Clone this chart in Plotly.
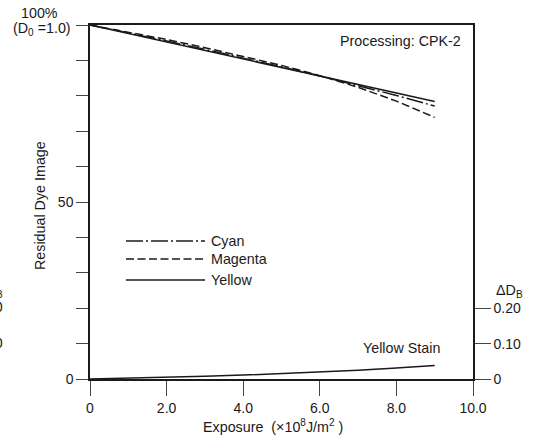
import plotly.graph_objects as go

# ---- data ----
exposure = [0, 1, 2, 3, 4, 5, 6, 7, 8, 9]
cyan = [100, 97.8, 95.5, 93.1, 90.7, 88.2, 85.6, 82.9, 80.1, 77.1]
magenta = [100, 98.0, 95.9, 93.6, 91.2, 88.6, 85.7, 82.4, 78.5, 73.9]
yellow = [100, 97.6, 95.2, 92.8, 90.4, 88.0, 85.6, 83.1, 80.7, 78.4]
yellow_stain = [0, 0.002, 0.005, 0.008, 0.011, 0.015, 0.020, 0.025, 0.031, 0.038]

x_ticks = [0, 2, 4, 6, 8, 10]
x_ticktext = ["0", "2.0", "4.0", "6.0", "8.0", "10.0"]
y_ticks = [0, 10, 20, 30, 40, 50, 60, 70, 80, 90, 100]
y_ticktext = ["0", "", "", "", "", "50", "", "", "", "", ""]
y2_ticks = [0, 0.1, 0.2]
y2_ticktext = ["0", "0.10", "0.20"]

FONT = "Liberation Sans, Arial, Helvetica, sans-serif"
INK = "#1a1a1a"
FS = 14.3
TFS = 14

fig = go.Figure()
fig.add_trace(go.Scatter(x=exposure, y=cyan, mode="lines", name="Cyan",
                         line=dict(color=INK, width=1.5, dash="17px,3px,2px,3px")))
fig.add_trace(go.Scatter(x=exposure, y=magenta, mode="lines", name="Magenta",
                         line=dict(color=INK, width=1.5, dash="8px,3.5px")))
fig.add_trace(go.Scatter(x=exposure, y=yellow, mode="lines", name="Yellow",
                         line=dict(color=INK, width=1.5)))
fig.add_trace(go.Scatter(x=exposure, y=yellow_stain, mode="lines", name="Yellow Stain",
                         yaxis="y2", line=dict(color=INK, width=1.5)))

legend_items = [("Cyan", "17px,3px,2px,3px", 241), ("Magenta", "8px,3.5px", 259), ("Yellow", "solid", 280)]
def px_x(p):
    return (p - 90) / 383.0
def px_y(p):
    return (379 - p) / 354.0

shapes = []
annotations = []
for name, dash, py in legend_items:
    shapes.append(dict(type="line", xref="paper", yref="paper",
                       x0=px_x(126), x1=px_x(205), y0=px_y(py), y1=px_y(py),
                       line=dict(color=INK, width=1.5, dash=dash)))
    annotations.append(dict(xref="paper", yref="paper", x=px_x(209), y=px_y(py),
                            xanchor="left", yanchor="middle", showarrow=False,
                            text=name, font=dict(size=FS, color=INK, family=FONT)))

def ann(x, y, text, xanchor="center", **kw):
    d = dict(xref="paper", yref="paper", x=px_x(x), y=px_y(y), xanchor=xanchor, yanchor="middle",
             showarrow=False, text=text, font=dict(size=FS, color=INK, family=FONT))
    d.update(kw)
    return d

NB = "\u00a0"
annotations += [
    ann(463, 41, "Processing: CPK-2", xanchor="right"),
    ann(442, 348, "Yellow Stain", xanchor="right"),
    ann(40, 13, "100%"),
    ann(42, 29, "(D<sub>0</sub> =1.0)"),
    ann(494, 291, "ΔD<sub>B</sub>", xanchor="left"),
    ann(40, 205, "Residual Dye Image", textangle=-90),
    ann(273, 426, "Exposure" + NB + NB + "(×10<sup>8</sup>J/m<sup>2</sup>" + NB + ")"),
    # cropped remnants of the neighbouring chart at the left edge
    ann(5, 291, "ΔD<sub>B</sub>", xanchor="right"),
    ann(5, 307, "0.20", xanchor="right"),
    ann(5, 343, "0.10", xanchor="right"),
]

fig.update_layout(
    width=538, height=438,
    margin=dict(l=90, r=65, t=25, b=59, autoexpand=False),
    paper_bgcolor="white", plot_bgcolor="white",
    showlegend=False,
    font=dict(family=FONT, size=TFS, color=INK),
    xaxis=dict(range=[0, 10], tickvals=x_ticks, ticktext=x_ticktext,
               showgrid=False, zeroline=False, showline=True, linecolor=INK, linewidth=1.5,
               mirror=True, ticks="outside", ticklen=15, tickwidth=1, tickcolor="#444",
               tickfont=dict(size=TFS, color=INK, family=FONT)),
    yaxis=dict(range=[0, 100], tickvals=y_ticks, ticktext=y_ticktext,
               showgrid=False, zeroline=False, showline=True, linecolor=INK, linewidth=1.5,
               ticks="outside", ticklen=12, tickwidth=1, tickcolor="#444",
               tickfont=dict(size=TFS, color=INK, family=FONT)),
    yaxis2=dict(range=[0, 1.0], overlaying="y", side="right", tickvals=y2_ticks, ticktext=y2_ticktext,
                showgrid=False, zeroline=False, showline=True, linecolor=INK, linewidth=1.5,
                ticks="outside", ticklen=16, tickwidth=1, tickcolor="#444",
                tickfont=dict(size=TFS, color=INK, family=FONT)),
    shapes=shapes,
    annotations=annotations,
)

fig.write_html("out.html", config={"displayModeBar": False},
               post_script="document.body.style.margin='0';document.body.style.overflow='hidden';")
